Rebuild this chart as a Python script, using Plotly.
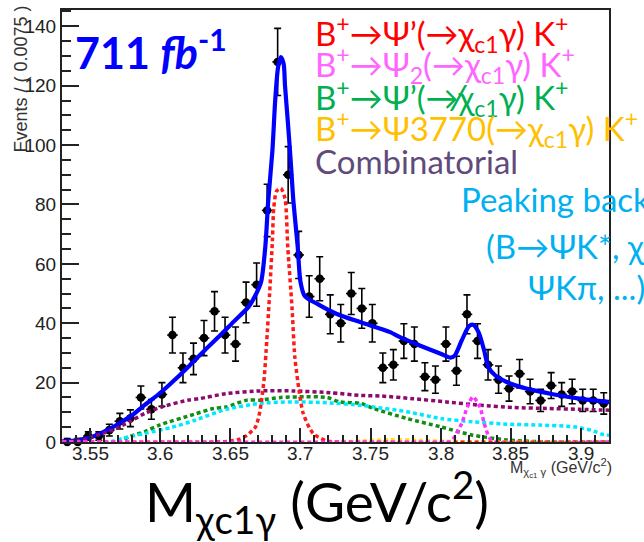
import numpy as np
import plotly.graph_objects as go

# ---- binned data: M(chi_c1 gamma), 52 bins of 0.0075 GeV/c^2 from 3.53 ----
mass_lo = 3.53
bin_w = 0.0075
counts = [0, 0, 2, 2, 4, 7, 8, 15, 11, 16, 36, 25, 28, 35, 44, 36, 33, 47, 53, 78,
          128, 90, 63, 49, 55, 43, 40, 50, 45, 40, 25, 26, 34, 33, 22, 21, 33, 24, 43, 34,
          26, 21, 18, 23, 17, 14, 19, 16, 17, 14, 14, 13]

# ---- fit curves (x in GeV/c^2, y in events / bin) ----
total_x = [3.530, 3.539, 3.550, 3.557, 3.564, 3.571, 3.580, 3.589, 3.600, 3.611, 3.621, 3.632,
           3.643, 3.653, 3.663, 3.668, 3.672, 3.675, 3.677, 3.680, 3.682, 3.684, 3.686, 3.688,
           3.689, 3.691, 3.693, 3.695, 3.698, 3.700, 3.703, 3.712, 3.726, 3.743, 3.764, 3.771,
           3.785, 3.800, 3.807, 3.810, 3.815, 3.820, 3.823, 3.827, 3.831, 3.834, 3.839, 3.847,
           3.861, 3.880, 3.899, 3.920]
total_y = [0.2, 0.5, 1.5, 2.8, 4.4, 6.3, 9.0, 12.5, 16.5, 21.2, 25.8, 31.0,
           36.0, 40.8, 45.5, 49.5, 54.0, 66.0, 81.0, 98.0, 115.0, 126.0, 129.6, 127.5,
           120.0, 108.0, 95.0, 81.0, 66.0, 54.0, 49.2, 46.5, 43.1, 40.3, 37.0, 35.3,
           32.5, 29.7, 28.4, 29.1, 34.2, 38.9, 39.5, 37.0, 30.8, 25.2, 22.4, 20.2,
           18.0, 16.1, 14.6, 13.5]

psip_x = [3.530, 3.640, 3.650, 3.657, 3.662, 3.668, 3.671, 3.674, 3.676, 3.678, 3.680, 3.681,
          3.683, 3.686, 3.689, 3.691, 3.694, 3.696, 3.699, 3.702, 3.709, 3.719, 3.728, 3.920]
psip_y = [0.0, 0.0, 0.3, 1.0, 2.3, 5.1, 10.2, 20.8, 34.2, 49.8, 67.7, 79.0,
          84.5, 85.5, 82.0, 65.4, 45.3, 28.6, 17.4, 9.6, 2.9, 0.3, 0.0, 0.0]

psi2_x = [3.530, 3.805, 3.807, 3.810, 3.815, 3.819, 3.823, 3.828, 3.831, 3.835, 3.839, 3.920]
psi2_y = [0.0, 0.0, 0.1, 1.8, 6.3, 11.8, 15.2, 11.8, 6.3, 1.2, 0.0, 0.0]

comb_x = [3.530, 3.539, 3.549, 3.557, 3.566, 3.578, 3.589, 3.601, 3.620, 3.628, 3.647, 3.671,
          3.695, 3.721, 3.743, 3.757, 3.780, 3.804, 3.828, 3.852, 3.876, 3.899, 3.920]
comb_y = [0.0, 0.3, 1.2, 2.6, 4.0, 6.8, 9.6, 11.8, 14.1, 14.6, 16.3, 17.2,
          17.2, 16.6, 15.7, 15.5, 14.6, 13.5, 12.4, 11.6, 11.3, 11.0, 10.7]

nonchi_x = [3.530, 3.567, 3.571, 3.578, 3.589, 3.600, 3.624, 3.638, 3.647, 3.662, 3.671, 3.686,
            3.698, 3.719, 3.728, 3.743, 3.752, 3.776, 3.800, 3.823, 3.847, 3.871, 3.920]
nonchi_y = [0.0, 0.0, 0.1, 1.8, 3.5, 5.8, 9.3, 11.3, 11.8, 14.1, 14.1, 15.0,
            15.2, 15.0, 13.5, 13.0, 11.3, 7.9, 5.1, 2.3, 0.7, 0.1, 0.0]

peak_x = [3.530, 3.564, 3.573, 3.589, 3.608, 3.624, 3.647, 3.671, 3.695, 3.719, 3.743, 3.752,
          3.776, 3.800, 3.823, 3.847, 3.871, 3.895, 3.907, 3.916, 3.920]
peak_y = [0.0, 0.0, 1.2, 2.9, 4.9, 7.2, 11.0, 13.0, 13.5, 13.2, 12.4, 11.8,
          10.2, 7.9, 6.8, 6.0, 5.7, 5.1, 4.0, 2.5, 2.3]

psi3770_x = [3.530, 3.721, 3.743, 3.764, 3.785, 3.807, 3.828, 3.920]
psi3770_y = [0.0, 0.0, 0.3, 0.8, 0.5, 0.2, 0.0, 0.0]

x_ticks = [3.55, 3.60, 3.65, 3.70, 3.75, 3.80, 3.85, 3.90]
x_tick_labels = ["3.55", "3.6", "3.65", "3.7", "3.75", "3.8", "3.85", "3.9"]
y_ticks = [0, 20, 40, 60, 80, 100, 120, 140]
y_tick_labels = ["0", "20", "40", "60", "80", "100", "120", "140"]

# ---- derived quantities ----
n = np.array(counts, dtype=float)
centres = mass_lo + bin_w * (np.arange(len(counts)) + 0.5)
err_up = np.where(n > 0, np.sqrt(n), 1.15)
err_dn = np.sqrt(n)

fig = go.Figure()

fig.add_trace(go.Scatter(
    x=centres, y=n, mode="markers", cliponaxis=False,
    marker=dict(color="black", size=8.5, symbol="circle"),
    error_y=dict(type="data", array=err_up, arrayminus=err_dn, symmetric=False,
                 color="black", thickness=1.6, width=3.5),
    error_x=dict(type="constant", value=bin_w / 2, color="black", thickness=1.6, width=0),
    showlegend=False,
))

DOT = "4px,3px"
curves = [
    (total_x, total_y, "#0000ff", 4.2, "solid"),
    (comb_x, comb_y, "#8b0a6e", 3.5, DOT),
    (nonchi_x, nonchi_y, "#0f8f0f", 3.5, DOT),
    (peak_x, peak_y, "#00e8ff", 3.5, DOT),
    (psi3770_x, psi3770_y, "#ffe600", 3.5, DOT),
    (psip_x, psip_y, "#ff1a1a", 3.5, DOT),
    (psi2_x, psi2_y, "#ff33ff", 3.5, DOT),
]
for cx, cy, col, w, dash in curves:
    fig.add_trace(go.Scatter(
        x=cx, y=cy, mode="lines", cliponaxis=False,
        line=dict(color=col, width=w, dash=dash, shape="spline", smoothing=0.7),
        showlegend=False, hoverinfo="skip",
    ))

axis_col = "#222222"
tick_font = dict(family="Liberation Sans Narrow, Liberation Sans, Arial, sans-serif",
                 size=19, color=axis_col)

fig.update_layout(
    width=644, height=542,
    margin=dict(l=62, r=35, t=8, b=100),
    paper_bgcolor="white", plot_bgcolor="white",
    xaxis=dict(
        range=[3.53, 3.92], tickmode="array", tickvals=x_ticks, showticklabels=False,
        ticks="inside", ticklen=14, tickwidth=1.5, tickcolor=axis_col,
        showline=True, linecolor=axis_col, linewidth=2, mirror=True,
        showgrid=False, zeroline=False,
        minor=dict(tick0=3.53, dtick=0.01, ticks="inside", ticklen=7,
                   tickwidth=1.5, tickcolor=axis_col, showgrid=False),
    ),
    yaxis=dict(
        range=[0, 145.5], tickmode="array", tickvals=y_ticks, ticktext=y_tick_labels,
        ticks="inside", ticklen=17, tickwidth=1.5, tickcolor=axis_col,
        showline=True, linecolor=axis_col, linewidth=2, mirror=True,
        showgrid=False, zeroline=False, tickfont=tick_font, ticklabelstandoff=0,
        minor=dict(tick0=0, dtick=5, ticks="inside", ticklen=9,
                   tickwidth=1.5, tickcolor=axis_col, showgrid=False),
    ),
)


def px_x(px):
    return (px - 62) / 547.0


def px_y(py):
    return (442 - py) / 434.0


label_font = "Lato, Calibri, 'Open Sans', sans-serif"
leg_size = 33
annotations = [
    # luminosity
    dict(text="<b>711 <i>fb</i><sup>-1</sup></b>", x=px_x(73), y=px_y(48),
         xanchor="left", yanchor="middle", font=dict(family=label_font, size=43, color="#0000ff")),
    # component labels
    dict(text="B<sup>+</sup>→Ψ’(→χ<sub>c1</sub>γ) K<sup>+</sup>", x=px_x(313), y=px_y(32),
         xanchor="left", yanchor="middle", font=dict(family=label_font, size=leg_size, color="#ff0000")),
    dict(text="B<sup>+</sup>→Ψ<sub>2</sub>(→χ<sub>c1</sub>γ) K<sup>+</sup>", x=px_x(313), y=px_y(63),
         xanchor="left", yanchor="middle", font=dict(family=label_font, size=leg_size, color="#ff66ff")),
    dict(text="B<sup>+</sup>→Ψ’(↛χ<sub>c1</sub>γ) K<sup>+</sup>", x=px_x(313), y=px_y(96),
         xanchor="left", yanchor="middle", font=dict(family=label_font, size=leg_size, color="#00b050")),
    dict(text="B<sup>+</sup>→Ψ3770(→χ<sub>c1</sub>γ) K<sup>+</sup>", x=px_x(313), y=px_y(127),
         xanchor="left", yanchor="middle", font=dict(family=label_font, size=leg_size, color="#ffc000")),
    dict(text="Combinatorial", x=px_x(313), y=px_y(160),
         xanchor="left", yanchor="middle", font=dict(family=label_font, size=leg_size, color="#604a7b")),
    dict(text="Peaking background", x=px_x(459), y=px_y(198),
         xanchor="left", yanchor="middle", font=dict(family=label_font, size=leg_size, color="#00b0f0")),
    dict(text="(B→ΨK*, χ<sub>c1</sub>K*,", x=px_x(484), y=px_y(248),
         xanchor="left", yanchor="middle", font=dict(family=label_font, size=leg_size, color="#00b0f0")),
    dict(text="ΨKπ, ...)", x=px_x(526), y=px_y(286),
         xanchor="left", yanchor="middle", font=dict(family=label_font, size=leg_size, color="#00b0f0")),
    # axis titles
    dict(text="Events / ( 0.0075 )", x=px_x(21), y=px_y(2), textangle=-90,
         xanchor="center", yanchor="top",
         font=dict(family="Liberation Sans, Arial, sans-serif", size=18, color="#333333")),
    dict(text="M<sub>χ<sub>c1</sub> γ</sub> (GeV/c<sup>2</sup>)", x=px_x(614), y=px_y(468),
         xanchor="right", yanchor="middle",
         font=dict(family="Liberation Sans, Arial, sans-serif", size=16, color="#333333")),
    dict(text="M<sub>χc1γ</sub> (GeV/c<sup>2</sup>)", x=px_x(317), y=px_y(502),
         xanchor="center", yanchor="middle",
         font=dict(family=label_font, size=55, color="black")),
]
for a in annotations:
    a.update(xref="paper", yref="paper", showarrow=False)

# x tick labels placed just under the frame
for tv, tl in zip(x_ticks, x_tick_labels):
    annotations.append(dict(text=tl, x=tv, xref="x", y=px_y(454), yref="paper",
                            xanchor="center", yanchor="middle", showarrow=False,
                            font=tick_font))

fig.update_layout(annotations=annotations)

fig.write_html("out.html")
